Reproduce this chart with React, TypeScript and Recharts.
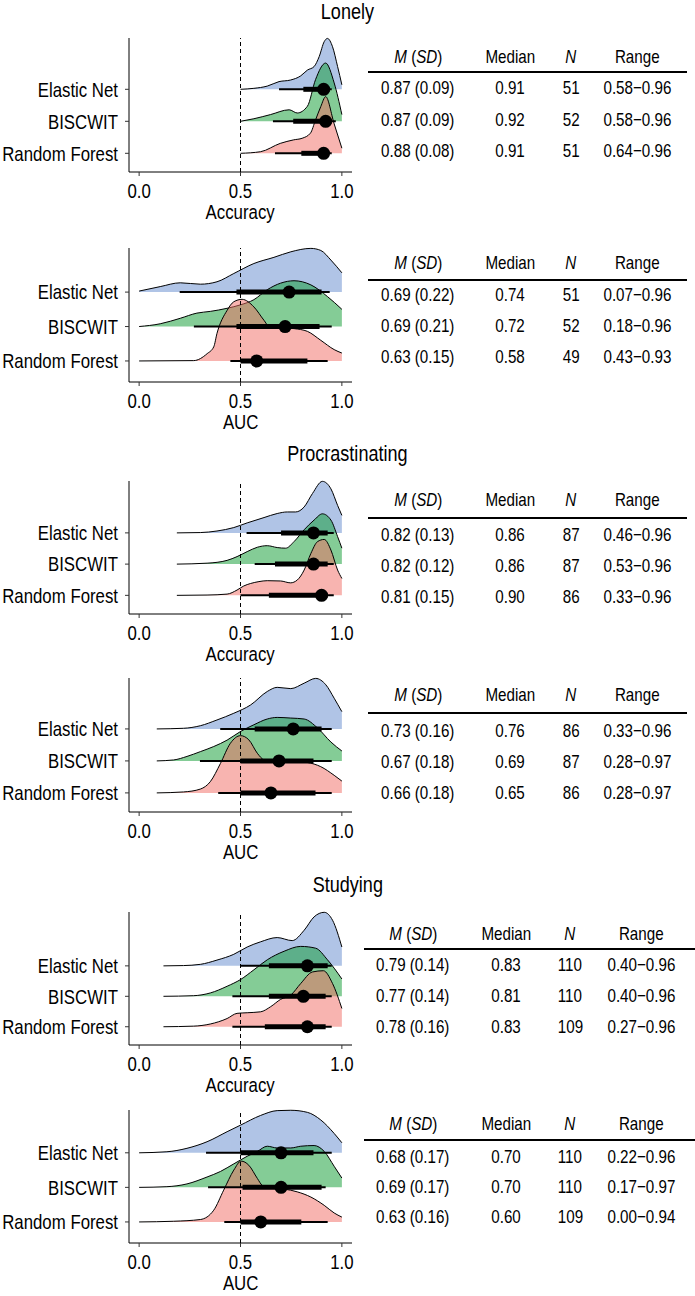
import React from 'react';
import { ComposedChart, Area, Line, Scatter, XAxis, YAxis, ReferenceLine } from 'recharts';

const FONT = "'Liberation Sans', Arial, sans-serif";
const SQUEEZE = 0.82; // narrow the sans face to look like a condensed one

const models = ['Elastic Net', 'BISCWIT', 'Random Forest'];
const fills = ['#6189CD', '#09992D', '#F16961'];
const outcomes = ['Lonely', 'Procrastinating', 'Studying'];

// ridge densities as [x, height] pairs; height in row units
const lonelyAccEN = [[0.5, 0], [0.566, 0.03], [0.632, 0.1], [0.69, 0.24], [0.747, 0.29], [0.797, 0.42], [0.83, 0.6], [0.863, 0.71], [0.888, 1.02], [0.913, 1.49], [0.929, 1.59], [0.954, 1.33], [0.979, 0.71], [1, 0.14]];
const lonelyAccBI = [[0.5, 0], [0.566, 0.08], [0.648, 0.21], [0.74, 0.36], [0.78, 0.26], [0.83, 0.47], [0.87, 1.3], [0.92, 1.82], [0.962, 1.2], [1, 0.21]];
const lonelyAccRF = [[0.5, 0], [0.599, 0.05], [0.696, 0.31], [0.762, 0.42], [0.804, 0.47], [0.845, 0.63], [0.87, 1.04], [0.896, 1.46], [0.92, 1.77], [0.962, 0.92], [1, 0.16]];

const lonelyAucEN = [[0, 0.03], [0.104, 0.16], [0.203, 0.27], [0.302, 0.23], [0.384, 0.3], [0.467, 0.54], [0.566, 0.83], [0.665, 1.01], [0.748, 1.17], [0.847, 1.27], [0.896, 1.21], [0.946, 0.93], [1, 0.56]];
const lonelyAucBI = [[0, 0], [0.104, 0.08], [0.203, 0.24], [0.285, 0.39], [0.351, 0.44], [0.434, 0.53], [0.5, 0.63], [0.566, 0.78], [0.632, 1.07], [0.698, 1.26], [0.764, 1.33], [0.847, 1.21], [0.929, 0.87], [1, 0.5]];
const lonelyAucRF = [[0, 0], [0.269, 0.01], [0.335, 0.21], [0.368, 0.41], [0.384, 0.8], [0.434, 1.47], [0.467, 1.72], [0.508, 1.79], [0.566, 1.57], [0.616, 1.18], [0.64, 1.01], [0.698, 0.97], [0.764, 0.94], [0.83, 0.86], [0.896, 0.6], [0.962, 0.33], [1, 0.23]];

const procAccEN = [[0.186, 0], [0.302, 0.01], [0.384, 0.06], [0.467, 0.17], [0.533, 0.32], [0.616, 0.49], [0.681, 0.62], [0.731, 0.67], [0.772, 0.67], [0.814, 0.83], [0.855, 1.26], [0.904, 1.65], [0.946, 1.41], [0.979, 0.88], [1, 0.56]];
const procAccBI = [[0.186, 0], [0.335, 0.03], [0.434, 0.12], [0.483, 0.24], [0.533, 0.4], [0.583, 0.54], [0.632, 0.59], [0.681, 0.53], [0.723, 0.51], [0.764, 0.72], [0.814, 1.1], [0.863, 1.41], [0.904, 1.61], [0.946, 1.41], [0.979, 0.88], [1, 0.51]];
const procAccRF = [[0.186, 0], [0.335, 0.01], [0.434, 0.04], [0.483, 0.17], [0.516, 0.3], [0.55, 0.38], [0.591, 0.44], [0.632, 0.47], [0.698, 0.46], [0.747, 0.4], [0.78, 0.49], [0.814, 0.81], [0.847, 1.34], [0.88, 1.72], [0.913, 1.79], [0.946, 1.45], [0.979, 0.81], [1, 0.54]];

const procAucEN = [[0.087, 0], [0.219, 0.02], [0.302, 0.1], [0.384, 0.28], [0.467, 0.49], [0.55, 0.75], [0.632, 1.17], [0.681, 1.3], [0.748, 1.26], [0.814, 1.43], [0.871, 1.58], [0.921, 1.38], [0.962, 0.96], [1, 0.54]];
const procAucBI = [[0.087, 0], [0.17, 0.03], [0.236, 0.14], [0.302, 0.29], [0.368, 0.45], [0.434, 0.65], [0.5, 0.92], [0.566, 1.13], [0.632, 1.31], [0.681, 1.36], [0.748, 1.34], [0.814, 1.31], [0.88, 1.03], [0.946, 0.59], [1, 0.31]];
const procAucRF = [[0.087, 0], [0.219, 0.03], [0.302, 0.12], [0.351, 0.35], [0.401, 0.92], [0.45, 1.55], [0.5, 1.79], [0.541, 1.66], [0.583, 1.24], [0.616, 1.03], [0.665, 0.97], [0.748, 0.99], [0.83, 0.95], [0.896, 0.82], [0.962, 0.55], [1, 0.37]];

const studyAccEN = [[0.12, 0], [0.219, 0.01], [0.302, 0.05], [0.384, 0.19], [0.467, 0.38], [0.533, 0.62], [0.599, 0.79], [0.681, 0.93], [0.755, 0.83], [0.814, 1.17], [0.863, 1.61], [0.913, 1.76], [0.954, 1.5], [1, 0.62]];
const studyAccBI = [[0.12, 0], [0.269, 0.02], [0.351, 0.11], [0.434, 0.33], [0.5, 0.55], [0.566, 0.87], [0.632, 1.2], [0.715, 1.48], [0.797, 1.64], [0.871, 1.58], [0.929, 1.2], [1, 0.57]];
const studyAccRF = [[0.12, 0], [0.269, 0.02], [0.351, 0.09], [0.434, 0.27], [0.483, 0.44], [0.533, 0.46], [0.599, 0.49], [0.649, 0.66], [0.698, 0.9], [0.748, 1.04], [0.797, 1.42], [0.855, 1.8], [0.909, 1.84], [0.954, 1.42], [1, 0.6]];

const studyAucEN = [[0, 0], [0.137, 0.03], [0.236, 0.13], [0.335, 0.32], [0.434, 0.61], [0.5, 0.8], [0.599, 1.08], [0.681, 1.22], [0.748, 1.23], [0.83, 1.17], [0.896, 0.95], [0.962, 0.56], [1, 0.29]];
const studyAucBI = [[0, 0], [0.137, 0.02], [0.236, 0.1], [0.335, 0.3], [0.401, 0.46], [0.467, 0.68], [0.533, 0.9], [0.583, 1.04], [0.632, 1.19], [0.681, 1.14], [0.748, 1.14], [0.797, 1.19], [0.863, 1.21], [0.913, 1.04], [0.962, 0.61], [1, 0.27]];
const studyAucRF = [[0, 0], [0.17, 0.02], [0.302, 0.07], [0.368, 0.34], [0.417, 0.92], [0.467, 1.5], [0.503, 1.76], [0.541, 1.64], [0.583, 1.26], [0.607, 1.06], [0.649, 0.97], [0.714, 0.95], [0.78, 0.87], [0.847, 0.72], [0.913, 0.48], [0.962, 0.26], [1, 0.14]];

// point intervals per model: [lo95, lo66, median, hi66, hi95]
const lonelyAccIntervals = [[0.69, 0.81, 0.91, 0.94, 0.95], [0.66, 0.76, 0.92, 0.95, 0.97], [0.67, 0.8, 0.91, 0.93, 0.95]];
const lonelyAucIntervals = [[0.2, 0.48, 0.74, 0.9, 0.94], [0.27, 0.48, 0.72, 0.89, 0.95], [0.45, 0.5, 0.58, 0.83, 0.93]];
const procAccIntervals = [[0.53, 0.7, 0.86, 0.93, 0.96], [0.57, 0.67, 0.86, 0.93, 0.96], [0.5, 0.64, 0.9, 0.93, 0.96]];
const procAucIntervals = [[0.4, 0.57, 0.76, 0.9, 0.95], [0.3, 0.5, 0.69, 0.86, 0.95], [0.39, 0.5, 0.65, 0.87, 0.95]];
const studyAccIntervals = [[0.5, 0.64, 0.83, 0.93, 0.95], [0.46, 0.64, 0.81, 0.92, 0.95], [0.46, 0.62, 0.83, 0.92, 0.95]];
const studyAucIntervals = [[0.33, 0.5, 0.7, 0.86, 0.95], [0.34, 0.51, 0.7, 0.9, 0.92], [0.42, 0.5, 0.6, 0.8, 0.93]];

// table rows: [mean, sd, median, n, min, max]
const lonelyAccTable = [[0.87, 0.09, 0.91, 51, 0.58, 0.96], [0.87, 0.09, 0.92, 52, 0.58, 0.96], [0.88, 0.08, 0.91, 51, 0.64, 0.96]];
const lonelyAucTable = [[0.69, 0.22, 0.74, 51, 0.07, 0.96], [0.69, 0.21, 0.72, 52, 0.18, 0.96], [0.63, 0.15, 0.58, 49, 0.43, 0.93]];
const procAccTable = [[0.82, 0.13, 0.86, 87, 0.46, 0.96], [0.82, 0.12, 0.86, 87, 0.53, 0.96], [0.81, 0.15, 0.9, 86, 0.33, 0.96]];
const procAucTable = [[0.73, 0.16, 0.76, 86, 0.33, 0.96], [0.67, 0.18, 0.69, 87, 0.28, 0.97], [0.66, 0.18, 0.65, 86, 0.28, 0.97]];
const studyAccTable = [[0.79, 0.14, 0.83, 110, 0.4, 0.96], [0.77, 0.14, 0.81, 110, 0.4, 0.96], [0.78, 0.16, 0.83, 109, 0.27, 0.96]];
const studyAucTable = [[0.68, 0.17, 0.7, 110, 0.22, 0.96], [0.69, 0.17, 0.7, 110, 0.17, 0.97], [0.63, 0.16, 0.6, 109, 0.0, 0.94]];

const wideCols = [418, 510, 571, 637];
const studyCols = [413, 506, 570, 641];

// layout: plot box in page px, y-domain in row units, table rows
const panels = [
  { metric: 'Accuracy', top: 38, bottom: 172, lo: -0.584, hi: 3.603, ridges: [lonelyAccEN, lonelyAccBI, lonelyAccRF], iv: lonelyAccIntervals, table: lonelyAccTable, headY: 57, lineY: 72, rowY: [88, 120, 151], cols: wideCols, lx: [368, 687] },
  { metric: 'AUC', top: 248, bottom: 382, lo: -0.611, hi: 3.281, ridges: [lonelyAucEN, lonelyAucBI, lonelyAucRF], iv: lonelyAucIntervals, table: lonelyAucTable, headY: 263, lineY: 280, rowY: [295, 326, 357], cols: wideCols, lx: [368, 687] },
  { metric: 'Accuracy', top: 481, bottom: 614, lo: -0.597, hi: 3.661, ridges: [procAccEN, procAccBI, procAccRF], iv: procAccIntervals, table: procAccTable, headY: 500, lineY: 518, rowY: [535, 566, 597], cols: wideCols, lx: [368, 687] },
  { metric: 'AUC', top: 678, bottom: 812, lo: -0.597, hi: 3.592, ridges: [procAucEN, procAucBI, procAucRF], iv: procAucIntervals, table: procAucTable, headY: 695, lineY: 713, rowY: [731, 762, 793], cols: wideCols, lx: [368, 687] },
  { metric: 'Accuracy', top: 912, bottom: 1045, lo: -0.6, hi: 3.77, ridges: [studyAccEN, studyAccBI, studyAccRF], iv: studyAccIntervals, table: studyAccTable, headY: 934, lineY: 949, rowY: [965, 996, 1027], cols: studyCols, lx: [364, 695] },
  { metric: 'AUC', top: 1110, bottom: 1243, lo: -0.609, hi: 3.238, ridges: [studyAucEN, studyAucBI, studyAucRF], iv: studyAucIntervals, table: studyAucTable, headY: 1124, lineY: 1140, rowY: [1157, 1187, 1217], cols: studyCols, lx: [364, 695] },
];
const titleY = [12, 454, 885];

const MT = 6;
const XH = 30;

function Dot(props: any) {
  return <circle cx={props.cx} cy={props.cy} r={6.5} fill="#000" />;
}

function XTick(props: any) {
  const { x, y, payload } = props;
  return (
    <text x={0} y={0} dy="0.71em" textAnchor="middle" fill="#000" fontSize={20.5} transform={`translate(${x},${y}) scale(${SQUEEZE},1)`}>
      {Number(payload.value).toFixed(1)}
    </text>
  );
}

function YTick(props: any) {
  const { x, y, payload } = props;
  return (
    <text x={0} y={0} dy="0.355em" textAnchor="end" fill="#000" fontSize={20.5} transform={`translate(${x},${y}) scale(${SQUEEZE},1)`}>
      {models[2 - payload.value]}
    </text>
  );
}

function Narrow({ children }: { children: React.ReactNode }) {
  return <span style={{ display: 'inline-block', transform: `scaleX(${SQUEEZE})` }}>{children}</span>;
}

function RidgePanel({ p }: { p: any }) {
  const h = MT + (p.bottom - p.top) + XH;
  return (
    <div style={{ position: 'absolute', left: 0, top: p.top - MT, width: 360, height: h }}>
      <ComposedChart width={360} height={h} margin={{ top: MT, right: 8, bottom: 0, left: 0 }}>
        <XAxis
          type="number"
          dataKey="x"
          domain={[-0.05, 1.05]}
          ticks={[0, 0.5, 1]}
          height={XH}
          tickSize={4}
          tickMargin={7}
          axisLine={{ stroke: '#000' }}
          tickLine={{ stroke: '#333' }}
          tick={<XTick />}
        />
        <YAxis
          type="number"
          dataKey="y"
          domain={[p.lo, p.hi]}
          ticks={[0, 1, 2]}
          width={129}
          tickSize={4}
          tickMargin={7}
          axisLine={{ stroke: '#000' }}
          tickLine={{ stroke: '#333' }}
          tick={<YTick />}
        />
        <ReferenceLine x={0.5} stroke="#000" strokeDasharray="4 3" />
        {p.ridges.map((pts: number[][], i: number) => {
          const base = 2 - i;
          return (
            <Area
              key={'r' + i}
              data={pts.map(([x, d]) => ({ x, y: base + d }))}
              dataKey="y"
              baseValue={base}
              type="monotone"
              stroke="#000"
              strokeWidth={1}
              fill={fills[i]}
              fillOpacity={0.5}
              dot={false}
              activeDot={false}
              isAnimationActive={false}
            />
          );
        })}
        {p.iv.map((q: number[], i: number) => (
          <Line
            key={'t' + i}
            data={[{ x: q[0], y: 2 - i }, { x: q[4], y: 2 - i }]}
            dataKey="y"
            stroke="#000"
            strokeWidth={2}
            dot={false}
            activeDot={false}
            isAnimationActive={false}
          />
        ))}
        {p.iv.map((q: number[], i: number) => (
          <Line
            key={'k' + i}
            data={[{ x: q[1], y: 2 - i }, { x: q[3], y: 2 - i }]}
            dataKey="y"
            stroke="#000"
            strokeWidth={5}
            dot={false}
            activeDot={false}
            isAnimationActive={false}
          />
        ))}
        <Scatter
          data={p.iv.map((q: number[], i: number) => ({ x: q[2], y: 2 - i }))}
          dataKey="y"
          fill="#000"
          shape={Dot}
          isAnimationActive={false}
        />
      </ComposedChart>
      <div style={{ position: 'absolute', left: 140, width: 201, top: MT + (p.bottom - p.top) + 40 - 12, height: 24, lineHeight: '24px', textAlign: 'center', fontSize: 20.5 }}>
        <Narrow>{p.metric}</Narrow>
      </div>
    </div>
  );
}

function Cell({ x, y, children }: { x: number; y: number; children: React.ReactNode }) {
  return (
    <div style={{ position: 'absolute', left: x - 70, top: y - 11, width: 140, height: 22, lineHeight: '22px', textAlign: 'center', fontSize: 18.5, whiteSpace: 'nowrap' }}>
      <Narrow>{children}</Narrow>
    </div>
  );
}

function StatsTable({ p }: { p: any }) {
  const c = p.cols;
  return (
    <>
      <Cell x={c[0]} y={p.headY}><i>M</i> (<i>SD</i>)</Cell>
      <Cell x={c[1]} y={p.headY}>Median</Cell>
      <Cell x={c[2]} y={p.headY}><i>N</i></Cell>
      <Cell x={c[3]} y={p.headY}>Range</Cell>
      <div style={{ position: 'absolute', left: p.lx[0], top: p.lineY - 1, width: p.lx[1] - p.lx[0], height: 2, background: '#000' }} />
      {p.table.map((r: number[], i: number) => (
        <React.Fragment key={i}>
          <Cell x={c[0]} y={p.rowY[i]}>{`${r[0].toFixed(2)} (${r[1].toFixed(2)})`}</Cell>
          <Cell x={c[1]} y={p.rowY[i]}>{r[2].toFixed(2)}</Cell>
          <Cell x={c[2]} y={p.rowY[i]}>{r[3]}</Cell>
          <Cell x={c[3]} y={p.rowY[i]}>{`${r[4].toFixed(2)}\u2212${r[5].toFixed(2)}`}</Cell>
        </React.Fragment>
      ))}
    </>
  );
}

export default function App() {
  return (
    <div style={{ position: 'absolute', left: 0, top: 0, width: 695, height: 1296, background: '#fff', fontFamily: FONT, color: '#000' }}>
      {outcomes.map((t, i) => (
        <div key={t} style={{ position: 'absolute', left: 0, width: 695, top: titleY[i] - 12, height: 24, lineHeight: '24px', textAlign: 'center', fontSize: 22 }}>
          <Narrow>{t}</Narrow>
        </div>
      ))}
      {panels.map((p, i) => (
        <React.Fragment key={i}>
          <RidgePanel p={p} />
          <StatsTable p={p} />
        </React.Fragment>
      ))}
    </div>
  );
}
